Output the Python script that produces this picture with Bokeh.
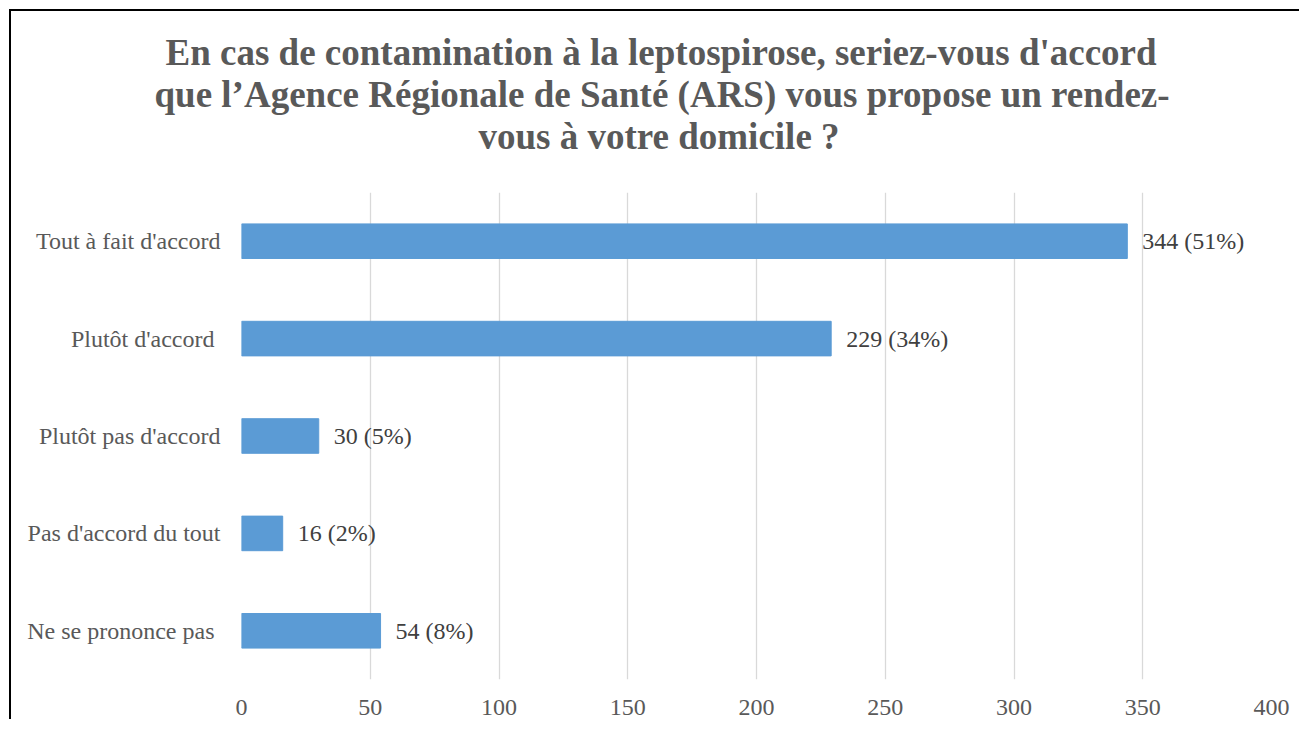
from bokeh.plotting import figure
from bokeh.models import ColumnDataSource, Range1d, FactorRange, SingleIntervalTicker, Title
from bokeh.core.properties import value
from bokeh.embed import file_html
from bokeh.resources import INLINE

categories = ["Tout à fait d'accord", "Plutôt d'accord ", "Plutôt pas d'accord",
              "Pas d'accord du tout", "Ne se prononce pas "]
counts = [344, 229, 30, 16, 54]
percents = [51, 34, 5, 2, 8]
title_lines = ["En cas de contamination à la leptospirose, seriez-vous d'accord",
               "que l’Agence Régionale de Santé (ARS) vous propose un rendez-",
               "vous à votre domicile  ?"]
title_offsets = [-76, -87, 237]

labels = [f"{c} ({p}%)" for c, p in zip(counts, percents)]
src = ColumnDataSource(dict(cat=categories, val=counts, lab=labels))

FONT = "Liberation Serif"

p = figure(width=1290, height=710, output_backend="svg", toolbar_location=None,
           x_range=Range1d(0, 400), y_range=FactorRange(*categories[::-1], range_padding=0),
           min_border_left=230, min_border_right=30, min_border_top=181, min_border_bottom=42)
p.styles = {"margin-left": "9px", "margin-top": "9px",
            "border-left": "2px solid #000", "border-top": "2px solid #000"}
p.outline_line_color = None
p.background_fill_color = "white"
p.border_fill_color = "white"

p.hbar(y="cat", right="val", left=0, height=0.355, source=src,
       fill_color="#5B9BD5", line_color="#5B9BD5")
p.text(x="val", y="cat", text="lab", source=src, x_offset=15,
       text_baseline="middle", text_align="left", text_color="#404040",
       text_font=value(FONT), text_font_size="24px")

p.xaxis.ticker = SingleIntervalTicker(interval=50)
for ax in (p.xaxis[0], p.yaxis[0]):
    ax.axis_line_color = None
    ax.major_tick_line_color = None
    ax.minor_tick_line_color = None
    ax.major_label_text_font = FONT
    ax.major_label_text_font_size = "24px"
    ax.major_label_text_color = "#595959"
p.xaxis.major_label_standoff = 14
p.yaxis.major_label_standoff = 15

p.xgrid.grid_line_color = "#D9D9D9"
p.xgrid.grid_line_width = 1.3
p.ygrid.grid_line_color = None

# spacer between the title block and the plot area
p.add_layout(Title(text=" ", text_font_size="1px", standoff=33), "above")
for t, off in list(zip(title_lines, title_offsets))[::-1]:
    p.add_layout(Title(text=t, align="left", offset=off, standoff=-1,
                       text_font=FONT, text_font_style="bold", text_font_size="37px",
                       text_color="#595959"), "above")

open("out.html", "w").write(file_html(p, INLINE))
